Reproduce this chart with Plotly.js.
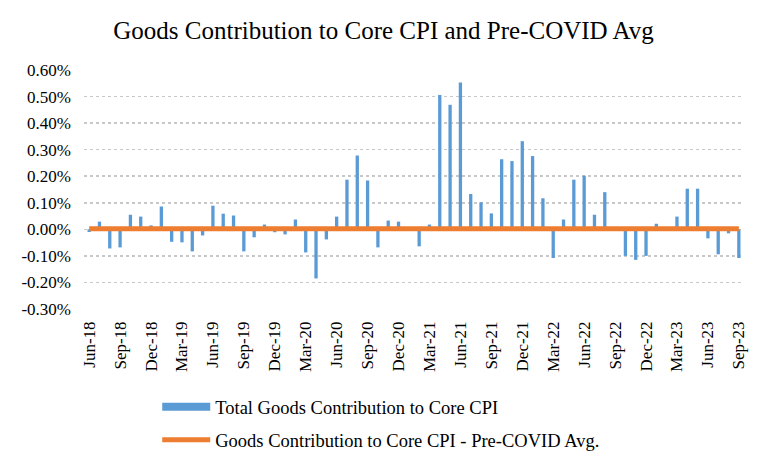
<!DOCTYPE html>
<html>
<head>
<meta charset="utf-8">
<script src="https://cdn.plot.ly/plotly-3.0.1.min.js"></script>
<style>html,body{margin:0;padding:0;background:#fff;}#chart{width:767px;height:465px;}</style>
</head>
<body>
<div id="chart"></div>
<script>
const months = ["Jun-18","Jul-18","Aug-18","Sep-18","Oct-18","Nov-18","Dec-18",
"Jan-19","Feb-19","Mar-19","Apr-19","May-19","Jun-19","Jul-19","Aug-19","Sep-19","Oct-19","Nov-19","Dec-19",
"Jan-20","Feb-20","Mar-20","Apr-20","May-20","Jun-20","Jul-20","Aug-20","Sep-20","Oct-20","Nov-20","Dec-20",
"Jan-21","Feb-21","Mar-21","Apr-21","May-21","Jun-21","Jul-21","Aug-21","Sep-21","Oct-21","Nov-21","Dec-21",
"Jan-22","Feb-22","Mar-22","Apr-22","May-22","Jun-22","Jul-22","Aug-22","Sep-22","Oct-22","Nov-22","Dec-22",
"Jan-23","Feb-23","Mar-23","Apr-23","May-23","Jun-23","Jul-23","Aug-23","Sep-23"];

// Total goods contribution to core CPI, percentage points
const goodsContribution = [-0.010,0.029,-0.072,-0.068,0.055,0.048,0.015,
0.086,-0.047,-0.049,-0.083,-0.023,0.089,0.059,0.052,-0.083,-0.030,0.018,-0.011,
-0.019,0.037,-0.087,-0.185,-0.038,0.048,0.187,0.278,0.184,-0.068,0.033,0.029,
0.004,-0.064,0.018,0.506,0.469,0.553,0.133,0.102,0.060,0.264,0.257,0.332,
0.276,0.117,-0.108,0.037,0.187,0.202,0.055,0.140,0.003,-0.100,-0.115,-0.100,
0.021,0.002,0.048,0.153,0.153,-0.034,-0.094,-0.015,-0.108];

// Pre-COVID average (constant line)
const preCovidAvg = 0.002;

const tickMonths = ["Jun-18","Sep-18","Dec-18","Mar-19","Jun-19","Sep-19","Dec-19","Mar-20","Jun-20","Sep-20","Dec-20",
"Mar-21","Jun-21","Sep-21","Dec-21","Mar-22","Jun-22","Sep-22","Dec-22","Mar-23","Jun-23","Sep-23"];
const yTickVals = [-0.3,-0.2,-0.1,0,0.1,0.2,0.3,0.4,0.5,0.6];
const yTickText = ["-0.30%","-0.20%","-0.10%","0.00%","0.10%","0.20%","0.30%","0.40%","0.50%","0.60%"];

const blue = '#5B9BD5', orange = '#ED7D31';
const serif = 'Liberation Serif';

const traces = [
  {type:'bar', x:months, y:goodsContribution, marker:{color:blue}, showlegend:false,
   legendgroup:'a', name:'Total Goods Contribution to Core CPI'},
  {type:'scatter', mode:'lines', x:[null], y:[null], line:{color:blue, width:8},
   legendgroup:'a', name:'Total Goods Contribution to Core CPI'},
  {type:'scatter', mode:'lines', x:[months[0], months[months.length-1]], y:[preCovidAvg, preCovidAvg],
   line:{color:orange, width:5}, legendgroup:'b', name:'Goods Contribution to Core CPI - Pre-COVID Avg.'}
];

const layout = {
  width:767, height:465,
  margin:{l:84, r:23, t:70, b:156, autoexpand:false},
  paper_bgcolor:'#fff', plot_bgcolor:'#fff',
  font:{family:serif, color:'#000', size:16},
  title:{text:'Goods Contribution to Core CPI and Pre-COVID Avg', font:{family:serif, size:25, color:'#000'},
         x:0.5, xanchor:'center', y:0.935, yanchor:'middle'},
  bargap:0.68,
  xaxis:{type:'category', categoryorder:'array', categoryarray:months, range:[-0.5, months.length-0.5],
         tickmode:'array', tickvals:tickMonths, ticktext:tickMonths, tickangle:-90, automargin:false,
         ticklabelstandoff:8,
         showgrid:false, showline:false, zeroline:false, ticks:'', tickfont:{family:serif, size:17, color:'#000'}},
  yaxis:{range:[-0.3,0.6], tickmode:'array', tickvals:yTickVals, ticktext:yTickText, automargin:false,
         ticklabelstandoff:12,
         showgrid:true, gridcolor:'#c8c8c8', griddash:'dot', gridwidth:1.5, zeroline:false, showline:false,
         ticks:'', tickfont:{family:serif, size:17, color:'#000'}},
  legend:{orientation:'v', xref:'container', yref:'container', x:0.205, xanchor:'left', y:0.165, yanchor:'top',
          font:{family:serif, size:18.5, color:'#000'}, traceorder:'grouped', tracegroupgap:6, itemwidth:48,
          bgcolor:'rgba(0,0,0,0)'}
};

Plotly.newPlot('chart', traces, layout, {displayModeBar:false, staticPlot:true});
</script>
</body>
</html>
